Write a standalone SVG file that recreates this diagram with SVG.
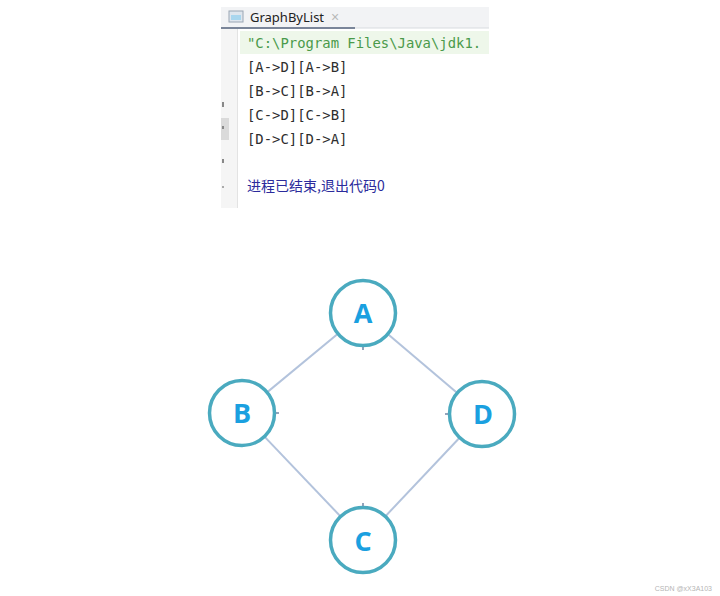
<svg xmlns="http://www.w3.org/2000/svg" width="720" height="596" viewBox="0 0 720 596">
<style>
.mono{font-family:"DejaVu Sans Mono","Liberation Mono",monospace;font-size:13.9px;fill:#2e2e2e}
.node circle{fill:#ffffff;stroke:#4aaabf;stroke-width:3.5}
.node text{font-family:"Open Sans","Liberation Sans",Arial,sans-serif;font-weight:bold;font-size:27px;fill:#1aa0e0;text-anchor:middle}
.edge{stroke:#b3c3dc;stroke-width:2}
.tick{stroke:#6f86a6;stroke-width:1.5}
</style>
<rect width="720" height="596" fill="#ffffff"/>
<g id="console">
  <rect x="221" y="7" width="268" height="201" fill="#ffffff"/>
  <rect x="221" y="7" width="268" height="21" fill="#f2f3f5"/>
  <rect x="221" y="27" width="134" height="2" fill="#7a8599"/>
  <rect x="355" y="27.5" width="134" height="1" fill="#d8dbe0"/>
  <rect x="229" y="11" width="14" height="11" fill="#dfe6ee" stroke="#9aa6b4" stroke-width="1"/>
  <rect x="231" y="15" width="10" height="5" fill="#a9d6ee"/>
  <text x="250" y="22" font-family="'Noto Sans','Liberation Sans',sans-serif" font-size="13" fill="#222222">GraphByList</text>
  <text x="331" y="22" font-family="'Liberation Sans',sans-serif" font-size="14" fill="#b8b8b8">×</text>
  <rect x="221" y="29" width="16" height="179" fill="#f5f5f5"/>
  <rect x="237" y="29" width="1" height="179" fill="#e3e3e3"/>
  <rect x="221" y="118" width="8" height="22" fill="#dadada"/>
  <rect x="222" y="102" width="2" height="5" fill="#888888"/>
  <rect x="222" y="126" width="2" height="3" fill="#888888"/>
  <rect x="222" y="159" width="2" height="4" fill="#888888"/>
  <rect x="222" y="186" width="2" height="2" fill="#aaaaaa"/>
  <rect x="240" y="31" width="249" height="23" fill="#eef7ea"/>
  <text class="mono" x="247" y="48" style="fill:#4a9a4a">"C:\Program Files\Java\jdk1.</text>
  <text class="mono" x="247" y="72">[A-&gt;D][A-&gt;B]</text>
  <text class="mono" x="247" y="96">[B-&gt;C][B-&gt;A]</text>
  <text class="mono" x="247" y="120">[C-&gt;D][C-&gt;B]</text>
  <text class="mono" x="247" y="144">[D-&gt;C][D-&gt;A]</text>
  <text x="247" y="191" font-family="'Noto Sans CJK SC','Noto Sans',sans-serif" font-size="14" fill="#2b2b9c">进程已结束,退出代码0</text>
</g>
<g id="connectors">
  <line class="edge" x1="363" y1="313" x2="242" y2="413"/>
  <line class="edge" x1="363" y1="313" x2="482" y2="414"/>
  <line class="edge" x1="242" y1="413" x2="363" y2="540"/>
  <line class="edge" x1="482" y1="414" x2="363" y2="540"/>
</g>
<g id="node-A" class="node"><circle cx="363" cy="313" r="32.5"/><text x="363" y="323">A</text></g>
<g id="node-B" class="node"><circle cx="242" cy="413" r="32.5"/><text x="242" y="423">B</text></g>
<g id="node-D" class="node"><circle cx="482" cy="414" r="32.5"/><text x="483" y="424">D</text></g>
<g id="node-C" class="node"><circle cx="363" cy="540" r="32.5"/><text x="363" y="551">C</text></g>
<g id="ticks">
  <line class="tick" x1="363" y1="347" x2="363" y2="350"/>
  <line class="tick" x1="276" y1="413" x2="279" y2="413"/>
  <line class="tick" x1="445" y1="414" x2="448" y2="414"/>
  <line class="tick" x1="363" y1="503" x2="363" y2="506"/>
</g>
<text x="712" y="591" text-anchor="end" font-family="'Liberation Sans',sans-serif" font-size="7" fill="#b5b5b5">CSDN @xX3A103</text>
</svg>
